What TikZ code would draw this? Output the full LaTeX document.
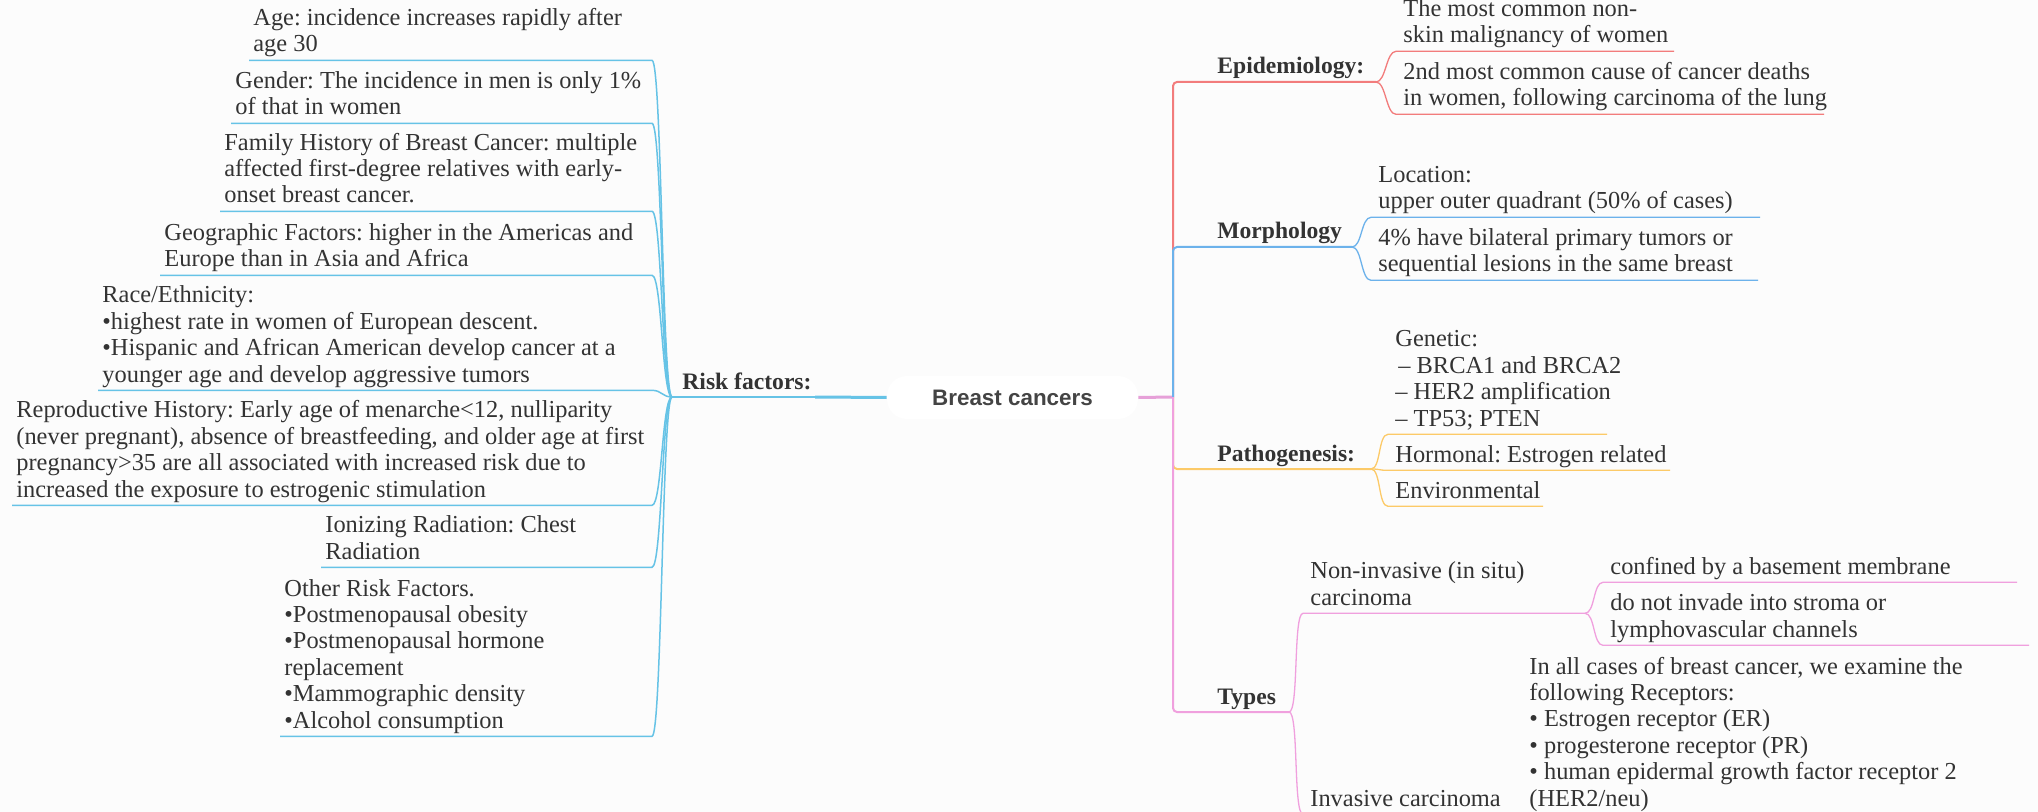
\documentclass[tikz,border=0pt]{standalone}
\usepackage{fontspec}
\setmainfont{Liberation Serif}
\setsansfont{Liberation Sans}
\usetikzlibrary{calc}
\definecolor{bgc}{HTML}{FCFCFC}
\definecolor{txtc}{HTML}{333333}
\definecolor{ctxt}{HTML}{444444}
\definecolor{lblue}{HTML}{66C3E6}
\definecolor{rred}{HTML}{F27C7C}
\definecolor{mblue}{HTML}{6CB2EB}
\definecolor{yell}{HTML}{FCCA68}
\definecolor{pinkc}{HTML}{F0A0DE}
\definecolor{cpink}{HTML}{E6A0D8}
\newcommand{\ml}[1]{\begin{tabular}[b]{@{}l@{}}#1\end{tabular}}
\frenchspacing
\begin{document}
\begin{tikzpicture}[x=0.5pt,y=-0.5pt,
  txt/.style={font=\frenchspacing\fontsize{12.2}{13.2}\selectfont, text=txtc, inner ysep=0pt, anchor=base west},
  lt/.style={txt, inner xsep=2pt},
  rt/.style={txt, inner xsep=3.5pt},
  bl/.style={font=\frenchspacing\bfseries\fontsize{11.8}{13.2}\selectfont, text=txtc, inner sep=0pt, anchor=base west},
  lcon/.style={draw=lblue, line width=0.75pt},
  rcon/.style={line width=0.65pt},
  trunk/.style={line width=1pt, rounded corners=2pt},
]
\path[use as bounding box, fill=bgc] (0,0) rectangle (2038,812);
\clip (0,0) rectangle (2038,812);

% ---------- coordinates
\coordinate (J) at (672,397);
\coordinate (LR) at (652,0);
\coordinate (rfR) at (815,397);
\coordinate (J2) at (1173,397);
\coordinate (epiR) at (1376,82);
\coordinate (morR) at (1352,247);
\coordinate (patR) at (1371,469);
\coordinate (typR) at (1289,712);
\coordinate (e1R) at (1674,0);
\coordinate (e2R) at (1824,0);
\coordinate (m1R) at (1760,0);
\coordinate (m2R) at (1758,0);
\coordinate (p1R) at (1607,0);
\coordinate (p2R) at (1670,0);
\coordinate (p3R) at (1543,0);
\coordinate (t1R) at (1585,0);
\coordinate (t2R) at (1515,0);
\coordinate (t1aR) at (2017,0);
\coordinate (t1bR) at (2029,0);
\coordinate (t2aR) at (1965,0);

% ---------- central node
\node[fill=white, rounded corners=10pt, minimum width=125.5pt, minimum height=21.5pt,
      font=\sffamily\bfseries\fontsize{11.2}{13}\selectfont, text=ctxt, inner sep=0pt] (bc) at (1012.5,397.5) {Breast cancers};

% ---------- left: risk factors
\node[bl] (rf) at (682,389) {Risk factors:};
\node[lt] (a1) at (249,52) {\ml{Age: incidence increases rapidly after\\age 30}};
\node[lt] (a2) at (231,115) {\ml{Gender: The incidence in men is only 1\%\\of that in women}};
\node[lt] (a3) at (220,203) {\ml{Family History of Breast Cancer: multiple\\affected first-degree relatives with early-\\onset breast cancer.}};
\node[lt] (a4) at (160,267) {\ml{Geographic Factors: higher in the Americas and\\Europe than in Asia and Africa}};
\node[lt] (a5) at (98,382) {\ml{Race/Ethnicity:\\•highest rate in women of European descent.\\•Hispanic and African American develop cancer at a\\younger age and develop aggressive tumors}};
\node[lt] (a6) at (12,497) {\ml{Reproductive History: Early age of menarche<12, nulliparity\\(never pregnant), absence of breastfeeding, and older age at first\\pregnancy>35 are all associated with increased risk due to\\increased the exposure to estrogenic stimulation}};
\node[lt] (a7) at (321,559) {\ml{Ionizing Radiation: Chest\\Radiation}};
\node[lt] (a8) at (280,728) {\ml{Other Risk Factors.\\•Postmenopausal obesity\\•Postmenopausal hormone\\replacement\\•Mammographic density\\•Alcohol consumption}};

\draw[draw=lblue, line width=0.75pt] (J) -- (rfR);
\draw[draw=lblue, line width=1.5pt] (rfR) -- (bc.west);
\foreach \n in {a1,a2,a3,a4,a5,a6,a7,a8}{
  \draw[lcon] (J) .. controls +(-10,0) and +(10,0) .. (\n.south west -| LR) -- (\n.south west);
}

% ---------- right: main branches
\node[bl] (epi) at (1217,74) {Epidemiology:};
\node[bl] (mor) at (1217,239) {Morphology};
\node[bl] (pat) at (1217,461) {Pathogenesis:};
\node[bl] (typ) at (1217,704) {Types};

\draw[draw=cpink, line width=1.5pt] (bc.east) -- (J2);
\draw[trunk, draw=rred] (J2) -- (J2 |- epiR) -- (epiR);
\draw[trunk, draw=mblue] (J2) -- (J2 |- morR) -- (morR);
\draw[trunk, draw=yell] (J2) -- (J2 |- patR) -- (patR);
\draw[trunk, draw=pinkc] (J2) -- (J2 |- typR) -- (typR);

% ---------- epidemiology
\node[rt] (e1) at (1396,43) {\ml{The most common non-\\skin malignancy of women}};
\node[rt] (e2) at (1396,106) {\ml{2nd most common cause of cancer deaths\\in women, following carcinoma of the lung}};
\foreach \n in {e1,e2}{
  \draw[rcon, draw=rred] (epiR) .. controls +(10,0) and +(-10,0) .. (\n.south west) -- (\n.south west -| \n R);
}

% ---------- morphology
\node[rt] (m1) at (1371,209) {\ml{Location:\\upper outer quadrant (50\% of cases)}};
\node[rt] (m2) at (1371,272) {\ml{4\% have bilateral primary tumors or\\sequential lesions in the same breast}};
\foreach \n in {m1,m2}{
  \draw[rcon, draw=mblue] (morR) .. controls +(10,0) and +(-10,0) .. (\n.south west) -- (\n.south west -| \n R);
}

% ---------- pathogenesis
\node[rt] (p1) at (1388,426) {\ml{Genetic:\\\hspace{1.5pt}– BRCA1 and BRCA2\\– HER2 amplification\\– TP53; PTEN}};
\node[rt] (p2) at (1388,462) {\ml{Hormonal: Estrogen related}};
\node[rt] (p3) at (1388,498) {\ml{Environmental}};
\foreach \n in {p1,p2,p3}{
  \draw[rcon, draw=yell] (patR) .. controls +(10,0) and +(-10,0) .. (\n.south west) -- (\n.south west -| \n R);
}

% ---------- types
\node[rt] (t1) at (1303,605) {\ml{Non-invasive (in situ)\\carcinoma}};
\node[rt] (t2) at (1303,806) {\ml{Invasive carcinoma}};
\foreach \n in {t1,t2}{
  \draw[rcon, draw=pinkc] (typR) .. controls +(10,0) and +(-10,0) .. (\n.south west) -- (\n.south west -| \n R);
}
\node[rt] (t1a) at (1603,574) {\ml{confined by a basement membrane}};
\node[rt] (t1b) at (1603,637) {\ml{do not invade into stroma or\\lymphovascular channels}};
\foreach \n in {t1a,t1b}{
  \draw[rcon, draw=pinkc] (t1.south west -| t1R) .. controls +(10,0) and +(-10,0) .. (\n.south west) -- (\n.south west -| \n R);
}
\node[rt] (t2a) at (1522,806) {\ml{In all cases of breast cancer, we examine the\\following Receptors:\\• Estrogen receptor (ER)\\• progesterone receptor (PR)\\• human epidermal growth factor receptor 2\\(HER2/neu)}};
\draw[rcon, draw=pinkc] (t2.south west -| t2R) .. controls +(4,0) and +(-4,0) .. (t2a.south west) -- (t2a.south west -| t2aR);
\end{tikzpicture}
\end{document}
